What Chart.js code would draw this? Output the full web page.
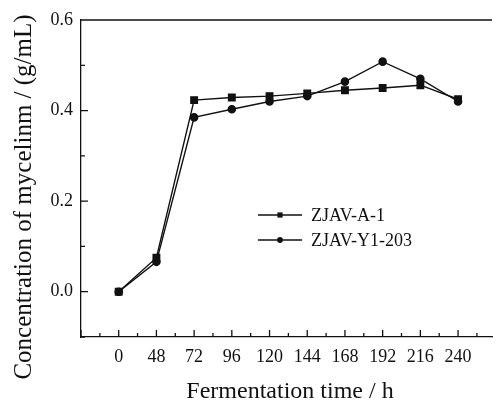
<!DOCTYPE html>
<html lang="en">
<head>
<meta charset="utf-8">
<title>Concentration of mycelinm</title>
<script src="https://cdn.jsdelivr.net/npm/chart.js"></script>
<style>
    html, body { margin: 0; padding: 0; background: #fff; }
    .chart-container { width: 498px; height: 403px; position: relative; }
</style>
</head>
<body>
<div class="chart-container">
    <canvas id="chart" width="498" height="403"></canvas>
</div>
<script>
// data
var timeLabels = ["0", "48", "72", "96", "120", "144", "168", "192", "216", "240"];
var strainA = [0.000, 0.075, 0.423, 0.429, 0.432, 0.438, 0.445, 0.450, 0.456, 0.425];
var strainY = [0.000, 0.066, 0.385, 0.403, 0.420, 0.432, 0.464, 0.508, 0.470, 0.420];
var seriesNames = ["ZJAV-A-1", "ZJAV-Y1-203"];
var yTickLabels = ["0.0", "0.2", "0.4", "0.6"];

var serif = "'Liberation Serif', 'Times New Roman', serif";
var ink = "#111";

function toPoints(values) {
    return values.map(function(v, i) { return { x: i, y: v }; });
}

// ticks point inward, minor ticks half way
var innerTicks = {
    id: "innerTicks",
    afterDraw: function(chart) {
        var ctx = chart.ctx;
        var area = chart.chartArea;
        var xs = chart.scales.x, ys = chart.scales.y;
        ctx.save();
        ctx.strokeStyle = ink;
        ctx.lineWidth = 1.3;
        ctx.beginPath();
        // top frame line
        ctx.moveTo(area.left, area.top);
        ctx.lineTo(area.right, area.top);
        xs.ticks.forEach(function(t) {
            var px = xs.getPixelForValue(t.value);
            var len = Number.isInteger(t.value) ? 7 : 4;
            ctx.moveTo(px, area.bottom);
            ctx.lineTo(px, area.bottom - len);
        });
        ys.ticks.forEach(function(t) {
            var py = ys.getPixelForValue(t.value);
            var len = yTickLabels.indexOf(t.value.toFixed(1)) >= 0 ? 7 : 4;
            ctx.moveTo(area.left, py);
            ctx.lineTo(area.left + len, py);
        });
        ctx.stroke();

        // axis titles
        ctx.fillStyle = ink;
        ctx.textAlign = "center";
        ctx.textBaseline = "alphabetic";
        ctx.font = "24px " + serif;
        ctx.fillText("Fermentation time / h", 290, 398);
        ctx.font = "25px " + serif;
        ctx.translate(31, 197);
        ctx.rotate(-Math.PI / 2);
        ctx.fillText("Concentration of mycelinm / (g/mL)", 0, 0);
        ctx.restore();
    }
};

// legend inside the plot: line with marker in the middle
var innerLegend = {
    id: "innerLegend",
    afterDraw: function(chart) {
        var ctx = chart.ctx;
        ctx.save();
        chart.data.datasets.forEach(function(ds, i) {
            var y = 215 + 25 * i;
            ctx.strokeStyle = ink;
            ctx.lineWidth = 1.3;
            ctx.beginPath();
            ctx.moveTo(258, y);
            ctx.lineTo(302, y);
            ctx.stroke();
            ctx.fillStyle = ink;
            Chart.helpers.drawPoint(ctx, { pointStyle: ds.pointStyle, radius: ds.pointRadius * 0.8, rotation: 0 }, 280, y);
            ctx.font = "18px " + serif;
            ctx.textAlign = "left";
            ctx.textBaseline = "middle";
            ctx.fillText(ds.label, 311, y + 1);
        });
        ctx.restore();
    }
};

var chart = new Chart(document.getElementById("chart"), {
    type: "scatter",
    data: {
        datasets: [
            {
                label: seriesNames[0],
                data: toPoints(strainA),
                showLine: true,
                borderColor: ink,
                backgroundColor: ink,
                borderWidth: 1.4,
                pointStyle: "rect",
                pointRadius: 4.6
            },
            {
                label: seriesNames[1],
                data: toPoints(strainY),
                showLine: true,
                borderColor: ink,
                backgroundColor: ink,
                borderWidth: 1.4,
                pointStyle: "circle",
                pointRadius: 3.6
            }
        ]
    },
    options: {
        responsive: false,
        animation: false,
        devicePixelRatio: 1,
        layout: { padding: { top: 20, right: 0, left: 0, bottom: 0 } },
        plugins: { legend: { display: false }, tooltip: { enabled: false } },
        scales: {
            x: {
                type: "linear",
                min: -1,
                max: 9.9,
                afterBuildTicks: function(scale) {
                    var t = [];
                    for (var v = -1; v <= 9.5; v += 0.5) t.push({ value: v });
                    scale.ticks = t;
                },
                afterFit: function(scale) { scale.height = 66; },
                grid: { drawOnChartArea: false, drawTicks: false },
                border: { color: ink, width: 1.3 },
                ticks: {
                    autoSkip: false,
                    maxRotation: 0,
                    padding: 9,
                    color: ink,
                    font: { family: serif, size: 18 },
                    callback: function(value) {
                        return (Number.isInteger(value) && value >= 0) ? timeLabels[value] : "";
                    }
                }
            },
            y: {
                min: -0.1,
                max: 0.6,
                afterBuildTicks: function(scale) {
                    var t = [];
                    for (var k = -1; k <= 6; k++) t.push({ value: k / 10 });
                    scale.ticks = t;
                },
                afterFit: function(scale) { scale.width = 81; },
                grid: { drawOnChartArea: false, drawTicks: false },
                border: { color: ink, width: 1.3 },
                ticks: {
                    autoSkip: false,
                    padding: 8,
                    color: ink,
                    font: { family: serif, size: 18 },
                    callback: function(value) {
                        var s = value.toFixed(1);
                        return yTickLabels.indexOf(s) >= 0 ? s : "";
                    }
                }
            }
        }
    },
    plugins: [innerTicks, innerLegend]
});
</script>
</body>
</html>
